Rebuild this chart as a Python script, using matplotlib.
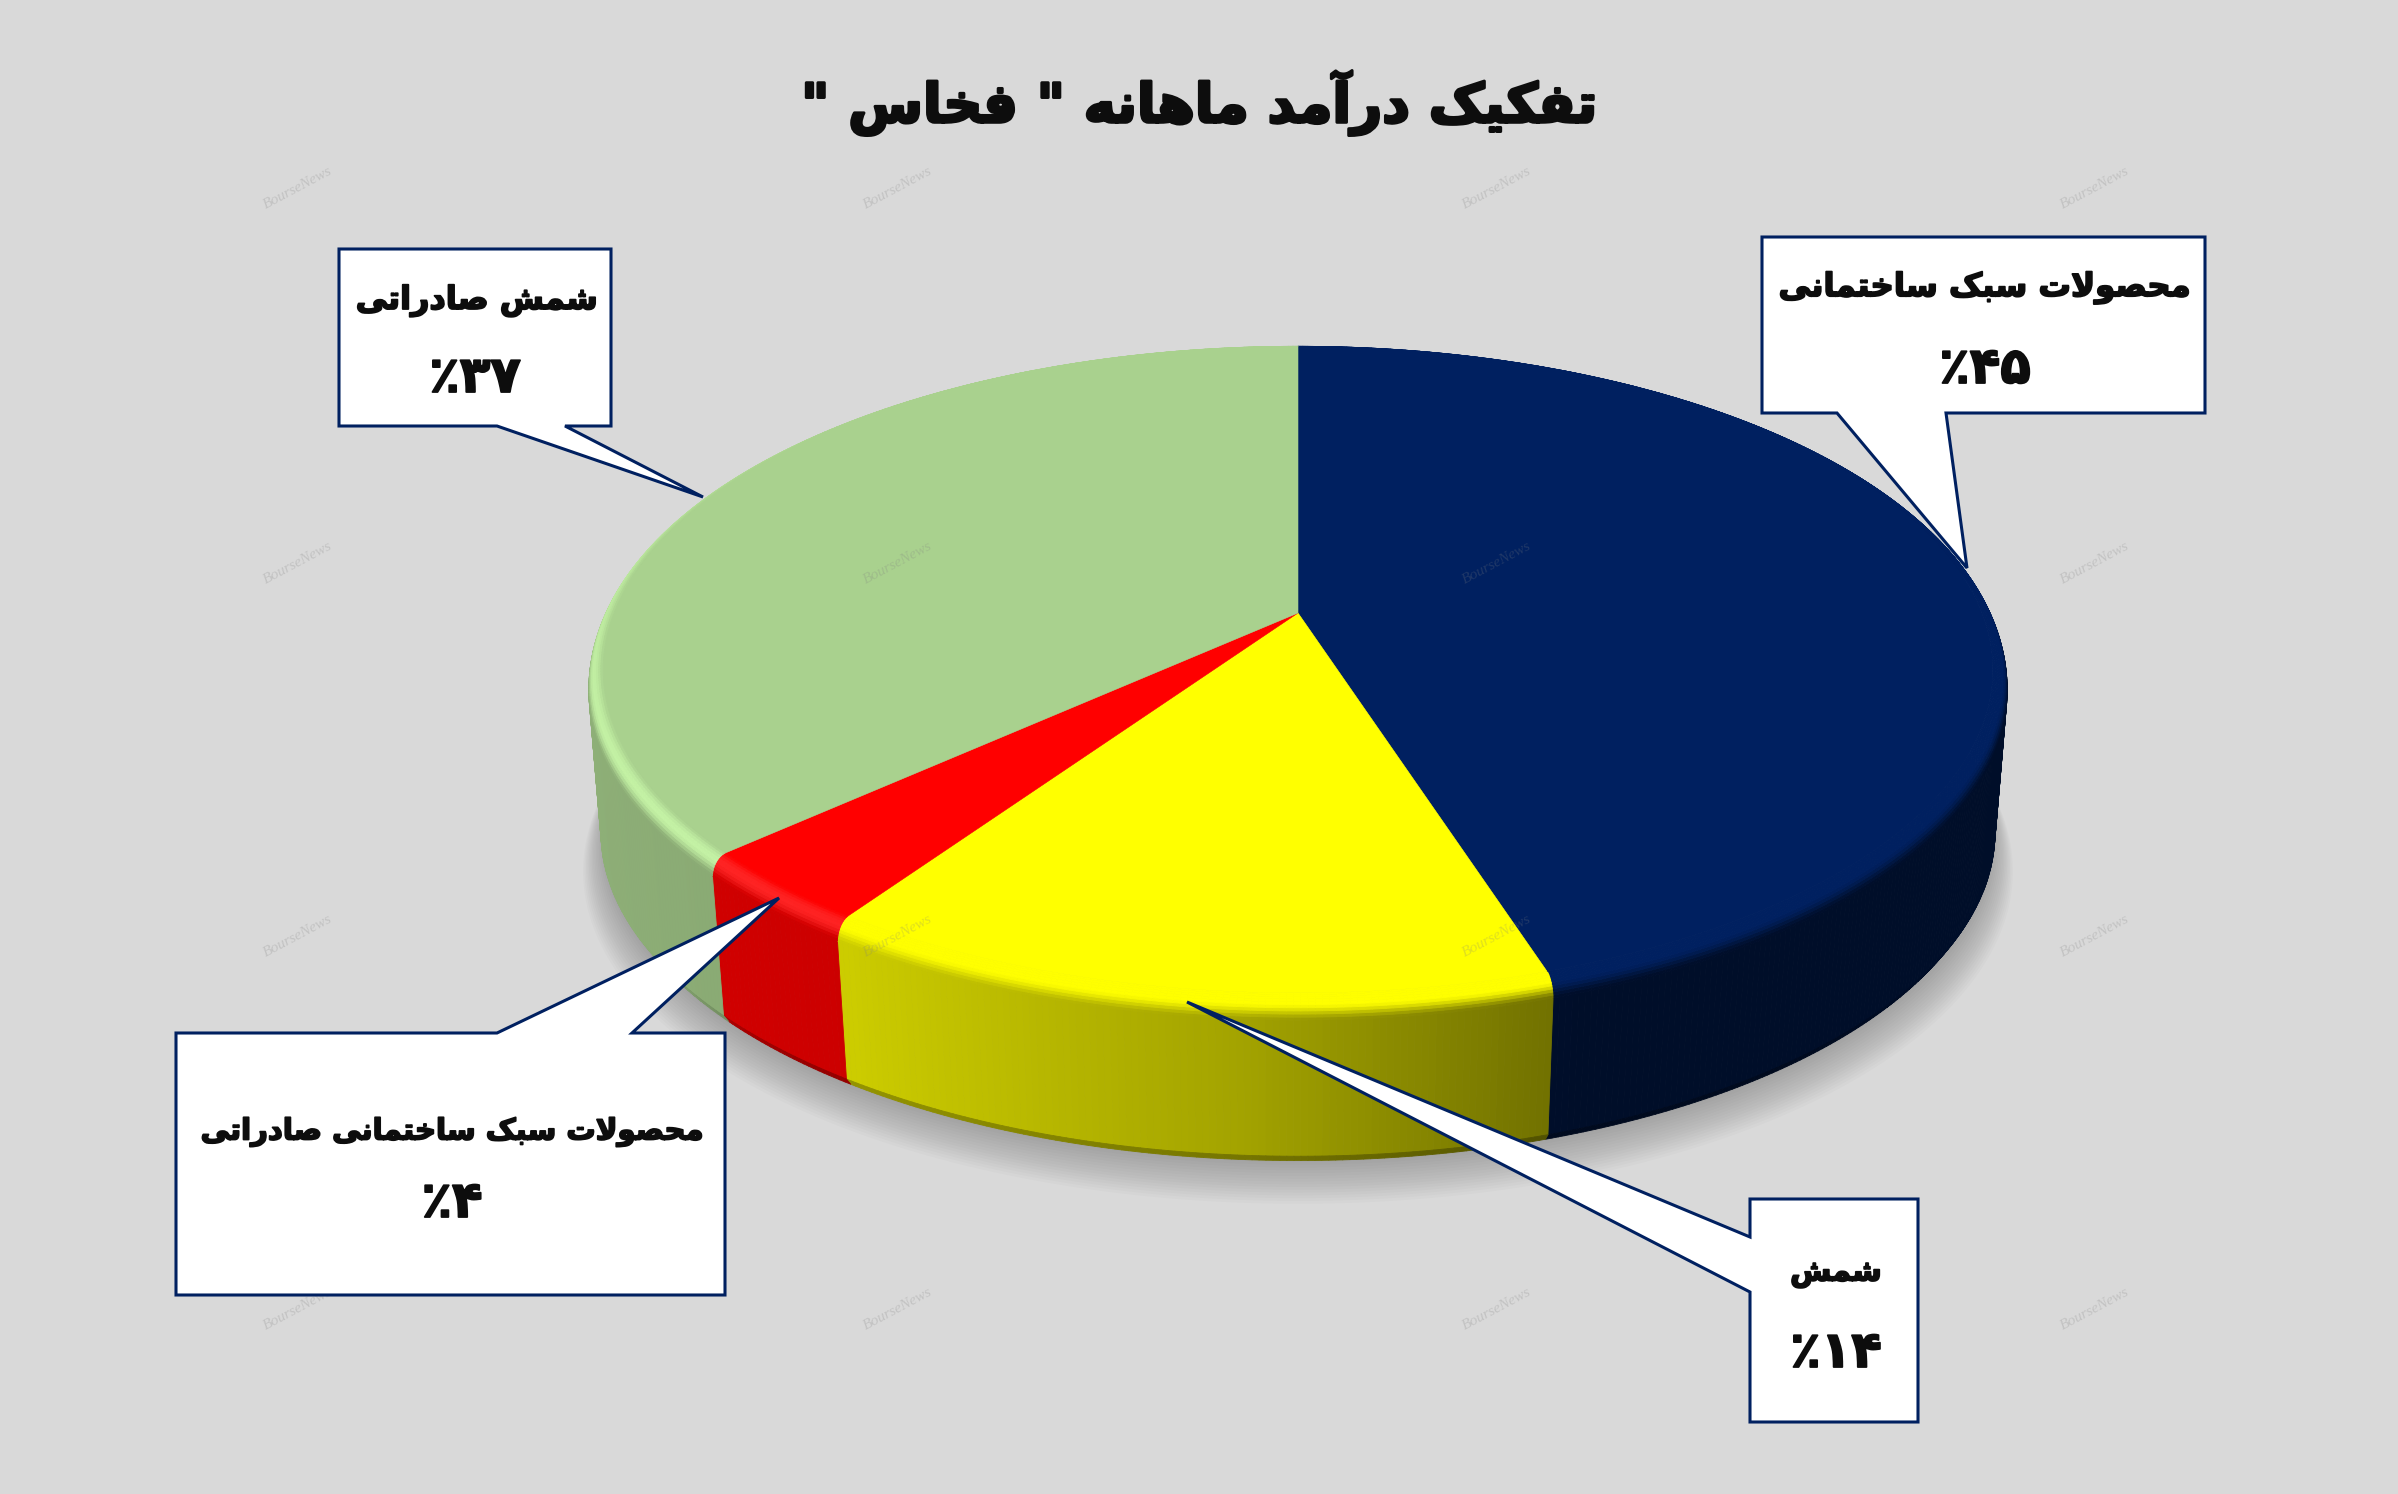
#!/usr/bin/env python3
import unicodedata
import numpy as np
import matplotlib
matplotlib.use("Agg")
import matplotlib.pyplot as plt
import matplotlib.patheffects as pe
from matplotlib.collections import PolyCollection
from matplotlib.patches import Polygon
from matplotlib.colors import to_rgb

title = 'تفکیک درآمد ماهانه " فخاس "'
categories = ["محصولات سبک ساختمانی", "شمش", "محصولات سبک ساختمانی صادراتی", "شمش صادراتی"]
shares = [45.1, 14.4, 3.7, 36.8]
percent_labels = ["٪۴۵", "٪۱۴", "٪۴", "٪۳۷"]

colors = ["#002060", "#FFFF00", "#FF0000", "#A9D18E"]
rim_gain = [0.0, 0.0, 0.0, 0.16]
rim_white = [0.0, 0.0, 0.14, 0.0]

# callout outlines, in picture pixels
callouts = [
    [(1762, 237), (2205, 237), (2205, 413), (1946, 413), (1967, 568), (1837, 413), (1762, 413)],
    [(1750, 1199), (1918, 1199), (1918, 1422), (1750, 1422), (1750, 1292), (1187, 1002), (1750, 1237)],
    [(176, 1033), (497, 1033), (779, 898), (632, 1033), (725, 1033), (725, 1295), (176, 1295)],
    [(339, 249), (611, 249), (611, 426), (565, 426), (703, 497), (497, 426), (339, 426)],
]
name_pos = [(1985, 288), (1836, 1273), (452, 1132), (477, 301)]
pct_pos = [(1985, 369), (1836, 1353), (452, 1203), (475, 378)]
name_size = [23.3, 21.5, 21, 23]
pct_size = [36, 36, 36, 36]

watermark_x = [298, 898, 1497, 2095]
watermark_y = [188, 563, 936, 1309]

# pie geometry (perspective disc)
CX, CY, RX, RY, K = 1298, 613, 684, 313, 0.176


def build_forms():
    forms = {}
    ranges = list(range(0xFB50, 0xFE00)) + list(range(0xFE70, 0xFEFF))
    for cp in ranges:
        parts = unicodedata.decomposition(chr(cp)).split()
        if len(parts) == 2 and parts[0] in ("<isolated>", "<final>", "<initial>", "<medial>"):
            forms.setdefault(chr(int(parts[1], 16)), {}).setdefault(parts[0][1:-1], chr(cp))
    return forms


FORMS = build_forms()


# matplotlib has no arabic shaping, so pick the joined forms by hand
def shape(text):
    out = []
    i = 0
    while i < len(text):
        ch = text[i]
        prev = text[i - 1] if i > 0 else ""
        prev_joins = "initial" in FORMS.get(prev, {})
        nxt = text[i + 1] if i + 1 < len(text) else ""
        if ch == "ل" and nxt == "ا":
            out.append("\ufefc" if prev_joins else "\ufefb")
            i += 2
            continue
        if ch in FORMS:
            next_joins = "initial" in FORMS[ch] and nxt in FORMS
            if prev_joins and next_joins:
                form = "medial"
            elif prev_joins:
                form = "final"
            elif next_joins:
                form = "initial"
            else:
                form = "isolated"
            out.append(FORMS[ch].get(form, ch))
        else:
            out.append(ch)
        i += 1
    return "".join(reversed(out))


def project(theta, r=1.0, drop=0.0):
    u, v = r * np.sin(theta), r * np.cos(theta)
    den = 1 + K * v
    return CX + RX * u / den, CY - RY * v / den + drop


def smooth(t):
    t = np.clip(t, 0, 1)
    return t * t * (3 - 2 * t)


def side_shade(theta):
    return np.interp(np.sin(theta), [-1, -0.55, -0.07, 0.33, 1], [0.84, 0.8, 0.64, 0.43, 0.43])


def band(th, r0, d0, r1, d1):
    x0, y0 = project(th, r0, d0)
    x1, y1 = project(th, r1, d1)
    q = []
    for i in range(len(th) - 1):
        q.append([(x0[i], y0[i]), (x0[i + 1], y0[i + 1]), (x1[i + 1], y1[i + 1]), (x1[i], y1[i])])
    return q


bold = dict(family="DejaVu Sans", weight="bold", color="#0D0D0D", ha="center", va="center", zorder=7)
heavy = [pe.withStroke(linewidth=1.3, foreground="#0D0D0D")]

fig = plt.figure(figsize=(23.98, 14.94), dpi=100, facecolor="#D9D9D9")
ax = fig.add_axes([0, 0, 1, 1])
ax.set_xlim(0, 2398)
ax.set_ylim(1494, 0)
ax.axis("off")

# soft shadow
all_th = np.linspace(0, 2 * np.pi, 361)
for i in range(16):
    f = i / 15
    sx, sy = project(all_th, 1.028 - 0.03 * f, 198 - 28 * f)
    ax.add_patch(Polygon(np.column_stack([sx, sy]), closed=True, fc="black", ec="none", alpha=0.014, zorder=1))

edges = np.cumsum([0] + shares) / sum(shares) * 2 * np.pi

# side wall, bevel ring and flat top
rim_r = 1.02
rim_drop = 18
levels = np.linspace(1, 0, 11)
for k in range(len(shares)):
    th = np.linspace(edges[k], edges[k + 1], max(int((edges[k + 1] - edges[k]) * 120), 4))
    mid = (th[:-1] + th[1:]) / 2
    base = np.array(to_rgb(colors[k]))
    shade = side_shade(mid)[:, None]
    wall = base * shade

    # only the part of the wall that faces the viewer
    front = np.cos(mid) < -K * 0.9
    quads = band(th, rim_r, rim_drop, 1.003, 162)
    quads = [q for q, keep in zip(quads, front) if keep]
    ax.add_collection(PolyCollection(quads, facecolors=wall[front], edgecolors=wall[front], linewidths=0.6, zorder=2))
    # darker lip at the foot of the wall, fading out towards the sides
    fade = 1 - 0.28 * smooth((-np.cos(mid[front]) - 0.45) / 0.4)[:, None]
    low = wall[front] * fade
    quads = band(th, 1.003, 162, 0.995, 170)
    quads = [q for q, keep in zip(quads, front) if keep]
    ax.add_collection(PolyCollection(quads, facecolors=low, edgecolors=low, linewidths=0.6, zorder=2))

    light = np.clip(-0.8 * np.sin(mid) - 0.6 * np.cos(mid), 0, 1)[:, None]
    for a, b in zip(levels[:-1], levels[1:]):
        t = (a + b) / 2
        r0 = 1 + (rim_r - 1) * np.sin(a * np.pi / 2)
        d0 = rim_drop * (1 - np.cos(a * np.pi / 2))
        r1 = 1 + (rim_r - 1) * np.sin(b * np.pi / 2)
        d1 = rim_drop * (1 - np.cos(b * np.pi / 2))
        bump = light * np.sin(np.pi * min(t * 1.15, 1))
        c = base + (base * shade - base) * smooth((t - 0.45) / 0.55)
        c = c * (1 + rim_gain[k] * bump)
        c = c + (1 - c) * rim_white[k] * bump
        c = np.clip(c, 0, 1)
        ax.add_collection(PolyCollection(band(th, r0, d0, r1, d1), facecolors=c, edgecolors=c,
                                         linewidths=0.6, zorder=3))

    fx, fy = project(th)
    pts = np.column_stack([np.r_[CX, fx], np.r_[CY, fy]])
    ax.add_patch(Polygon(pts, closed=True, fc=colors[k], ec=colors[k], lw=0.4, zorder=4))

for wx in watermark_x:
    for wy in watermark_y:
        ax.text(wx, wy, "BourseNews", rotation=28, ha="center", va="center", fontsize=11,
                family="Liberation Serif", style="italic", color="#7F7F7F", alpha=0.25, zorder=5)

for k, outline in enumerate(callouts):
    ax.add_patch(Polygon(outline, closed=True, fc="white", ec="#002060", lw=2.2, joinstyle="miter", zorder=6))
    ax.text(*name_pos[k], shape(categories[k]), fontsize=name_size[k], path_effects=heavy, **bold)
    ax.text(*pct_pos[k], percent_labels[k], fontsize=pct_size[k], path_effects=heavy, **bold)

ax.text(1199, 103, shape(title), fontsize=39, path_effects=[pe.withStroke(linewidth=2.2, foreground="#0D0D0D")], **bold)

fig.savefig("out.png", dpi=100, facecolor=fig.get_facecolor())
